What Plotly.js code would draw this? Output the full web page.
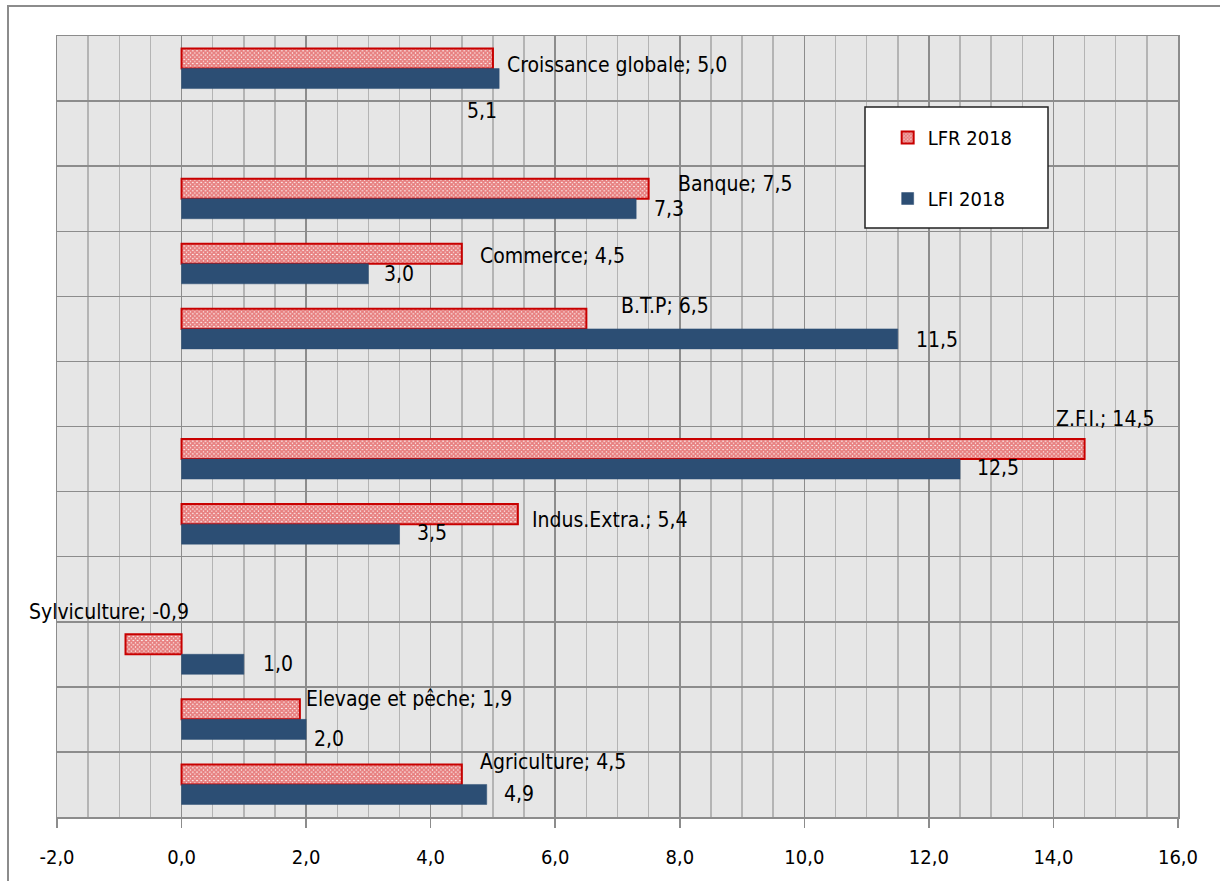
<!DOCTYPE html>
<html>
<head>
<meta charset="utf-8">
<script src="https://cdn.plot.ly/plotly-3.0.1.min.js"></script>
<style>
  html, body { margin: 0; padding: 0; background: #fff; }
  #chart { width: 1220px; height: 881px; }
</style>
</head>
<body>
<div id="chart"></div>
<script>
// ---- data ----
const categories = ['Croissance globale', ' ', 'Banque', 'Commerce', 'B.T.P', '  ', 'Z.F.I.', 'Indus.Extra.', '   ', 'Sylviculture', 'Elevage et pêche', 'Agriculture'];
const lfrValues = [5.0, null, 7.5, 4.5, 6.5, null, 14.5, 5.4, null, -0.9, 1.9, 4.5];
const lfiValues = [5.1, null, 7.3, 3.0, 11.5, null, 12.5, 3.5, null, 1.0, 2.0, 4.9];
const seriesNames = ['LFR 2018', 'LFI 2018'];
const xTickValues = [-2, 0, 2, 4, 6, 8, 10, 12, 14, 16];

// ---- label placement (pixel offsets, style only) ----
const lfrShiftX = [12, 0, 27, 16, 33, 0, -31, 12, 0, 9, 4, 16];
const lfrShiftY = [4, 0, 15, 8, 23, 0, 40, 4, 0, 42, 20, 22];
const lfiShiftX = [-34, 0, 16, 14, 16, 0, 15, 15, 0, 17, 6, 15];
const lfiShiftY = [-42, 0, -10, -10, -11, 0, -9, -9, 0, -10, -20, -10];

const FONT = '"Liberation Sans Narrow", "Arial Narrow", "DejaVu Sans Condensed", sans-serif';
const fmt = v => v.toFixed(1).replace('.', ',');

const RED = '#c80000';
const BLUE = '#2c4e74';

const traces = [
  {
    type: 'bar', orientation: 'h', name: seriesNames[0],
    y: categories, x: lfrValues, legendgroup: 'a',
    marker: {
      color: '#ffffff',
      pattern: { shape: 'x', fgcolor: '#d00000', bgcolor: '#ffffff', size: 3, solidity: 0.85, fillmode: 'overlay' },
      line: { color: RED, width: 2 }
    },
    hoverinfo: 'x+y'
  },
  {
    type: 'bar', orientation: 'h', name: seriesNames[1],
    y: categories, x: lfiValues, legendgroup: 'b',
    marker: { color: BLUE, line: { color: BLUE, width: 0.5 } },
    hoverinfo: 'x+y'
  }
];

const annotations = [];
categories.forEach((c, i) => {
  const a = lfrValues[i];
  if (a !== null) {
    const neg = a < 0;
    annotations.push({
      x: neg ? 0 : a, y: c, xref: 'x', yref: 'y',
      text: c + '; ' + fmt(a),
      showarrow: false,
      xanchor: neg ? 'right' : 'left', yanchor: 'middle',
      xshift: lfrShiftX[i], yshift: lfrShiftY[i],
      font: { family: FONT, size: 21, color: '#000' }
    });
  }
  const b = lfiValues[i];
  if (b !== null) {
    annotations.push({
      x: b, y: c, xref: 'x', yref: 'y',
      text: fmt(b),
      showarrow: false,
      xanchor: 'left', yanchor: 'middle',
      xshift: lfiShiftX[i], yshift: lfiShiftY[i],
      font: { family: FONT, size: 21, color: '#000' }
    });
  }
});

const GRID = '#8c8c8c';

const layout = {
  width: 1220, height: 881,
  margin: { l: 57, r: 42, t: 36, b: 64 },
  paper_bgcolor: '#ffffff',
  plot_bgcolor: '#e6e6e6',
  separators: ', ',
  barmode: 'group',
  bargap: 0.385,
  bargroupgap: 0,
  font: { family: FONT, size: 20, color: '#000' },
  showlegend: true,
  legend: {
    x: 0.741, y: 0.895, xanchor: 'left', yanchor: 'top',
    bgcolor: 'rgba(0,0,0,0)', borderwidth: 0,
    traceorder: 'grouped', tracegroupgap: 32,
    font: { family: FONT, size: 20, color: '#000' }
  },
  xaxis: {
    range: [-2, 16],
    tickvals: xTickValues,
    ticktext: xTickValues.map(fmt),
    showgrid: true, gridcolor: GRID, gridwidth: 1.5,
    minor: { dtick: 0.5, showgrid: true, gridcolor: '#b4b4b4', gridwidth: 1.5 },
    ticks: 'outside', ticklen: 9, tickcolor: GRID, tickwidth: 1.5,
    ticklabelstandoff: 12,
    showline: true, linecolor: GRID, linewidth: 1.5, mirror: true,
    zeroline: false,
    tickfont: { family: FONT, size: 20, color: '#000' },
    fixedrange: true
  },
  yaxis: {
    type: 'category',
    categoryorder: 'array', categoryarray: categories,
    autorange: false,
    range: [categories.length - 0.5, -0.5],
    tickson: 'boundaries',
    showgrid: true, gridcolor: GRID, gridwidth: 1.5,
    showticklabels: false, ticks: '',
    showline: true, linecolor: GRID, linewidth: 1.5, mirror: true,
    zeroline: false,
    fixedrange: true
  },
  shapes: [
    // legend box
    { type: 'rect', xref: 'paper', yref: 'paper', layer: 'above',
      x0: (865 - 57) / 1121, x1: (1048 - 57) / 1121,
      y0: (817 - 228) / 781, y1: (817 - 107) / 781,
      fillcolor: '#ffffff', line: { color: '#222', width: 1.5 } },
    // outer chart border
    { type: 'rect', xref: 'paper', yref: 'paper', layer: 'above',
      x0: (8 - 57) / 1121, x1: (1235 - 57) / 1121,
      y0: (817 - 900) / 781, y1: (817 - 6) / 781,
      fillcolor: 'rgba(0,0,0,0)', line: { color: '#8c8c8c', width: 2 } }
  ],
  annotations: annotations
};

Plotly.newPlot('chart', traces, layout, { displayModeBar: false, staticPlot: true });
</script>
</body>
</html>
